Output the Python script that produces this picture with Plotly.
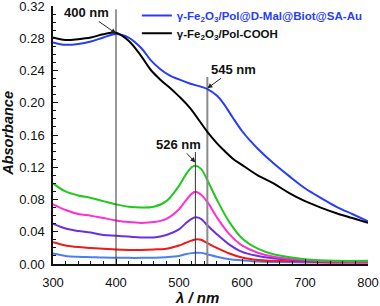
import plotly.graph_objects as go

# wavelength grid (nm)
wl_low = [300, 320, 340, 360, 380, 400, 420, 440, 460, 480, 500, 510, 520, 526, 535,
          545, 560, 580, 600, 625, 650, 700, 750, 800]
green = [0.100, 0.090, 0.085, 0.082, 0.078, 0.074, 0.071, 0.070, 0.071, 0.078, 0.097, 0.110,
         0.120, 0.122, 0.118, 0.104, 0.080, 0.052, 0.032, 0.019, 0.012, 0.006, 0.004, 0.004]
magenta = [0.074, 0.067, 0.062, 0.060, 0.057, 0.054, 0.052, 0.051, 0.052, 0.056, 0.068, 0.078,
           0.087, 0.0895, 0.086, 0.077, 0.058, 0.037, 0.023, 0.014, 0.009, 0.005, 0.003, 0.003]
purple = [0.050, 0.044, 0.041, 0.039, 0.036, 0.035, 0.034, 0.033, 0.033, 0.036, 0.043, 0.050,
          0.056, 0.058, 0.056, 0.048, 0.037, 0.024, 0.015, 0.010, 0.007, 0.004, 0.003, 0.003]
red = [0.027, 0.023, 0.021, 0.020, 0.019, 0.018, 0.0175, 0.0175, 0.018, 0.019, 0.023, 0.026,
       0.029, 0.0305, 0.030, 0.026, 0.020, 0.013, 0.008, 0.005, 0.004, 0.003, 0.002, 0.002]
light_blue = [0.013, 0.010, 0.009, 0.0085, 0.008, 0.0078, 0.0076, 0.0076, 0.0078, 0.0085, 0.010,
              0.012, 0.0135, 0.014, 0.0138, 0.012, 0.009, 0.006, 0.0045, 0.003, 0.0025, 0.002,
              0.002, 0.002]

wl_high = [300, 320, 340, 360, 380, 400, 420, 440, 455, 470, 485, 500, 517, 545, 560, 570, 585,
           600, 613, 625, 650, 675, 700, 725, 750, 775, 800]
au_conj = [0.275, 0.272, 0.273, 0.276, 0.281, 0.2855, 0.281, 0.268, 0.253, 0.242, 0.234, 0.229,
           0.224, 0.217, 0.209, 0.200, 0.182, 0.165, 0.153, 0.143, 0.125, 0.109, 0.094, 0.082,
           0.071, 0.062, 0.053]
cooh = [0.281, 0.278, 0.279, 0.281, 0.285, 0.287, 0.277, 0.258, 0.241, 0.229, 0.219, 0.208,
        0.194, 0.164, 0.150, 0.142, 0.131, 0.123, 0.116, 0.110, 0.100, 0.088, 0.078, 0.070,
        0.063, 0.057, 0.051]

# marker lines
mark_400_x = [400, 400]
mark_400_y = [0, 0.316]
mark_526_x = [526, 526]
mark_526_y = [0, 0.139]
mark_545_x = [545, 545]
mark_545_y = [0, 0.232]

x_ticks = [300, 400, 500, 600, 700, 800]
y_ticks = [0.00, 0.04, 0.08, 0.12, 0.16, 0.20, 0.24, 0.28, 0.32]

BLUE = "#2b3cf5"
fig = go.Figure()

low_series = [(light_blue, "#4a7ff0"), (red, "#f01818"), (purple, "#6a30e0"),
              (magenta, "#ff30d0"), (green, "#20c820")]
for ys, c in low_series:
    fig.add_trace(go.Scatter(x=wl_low, y=ys, mode="lines", line=dict(color=c, width=2, shape="spline"),
                             showlegend=False, hoverinfo="skip"))

fig.add_trace(go.Scatter(x=mark_400_x, y=mark_400_y, mode="lines", line=dict(color="#333333", width=1),
                         showlegend=False, hoverinfo="skip"))
fig.add_trace(go.Scatter(x=mark_526_x, y=mark_526_y, mode="lines", line=dict(color="#333333", width=1),
                         showlegend=False, hoverinfo="skip"))
fig.add_trace(go.Scatter(x=mark_545_x, y=mark_545_y, mode="lines", line=dict(color="#8a8a8a", width=2),
                         showlegend=False, hoverinfo="skip"))

fig.add_trace(go.Scatter(x=wl_high, y=au_conj, mode="lines", line=dict(color=BLUE, width=2, shape="spline"),
                         legend="legend",
                         name="<span style='color:%s'><b>γ-Fe<sub>2</sub>O<sub>3</sub>/Pol@D-Mal@Biot@SA-Au</b></span>" % BLUE))
fig.add_trace(go.Scatter(x=wl_high, y=cooh, mode="lines", line=dict(color="#000000", width=2, shape="spline"),
                         legend="legend2",
                         name="<b>γ-Fe<sub>2</sub>O<sub>3</sub>/Pol-COOH</b>"))

font_fam = "Liberation Sans, Arial, sans-serif"
ann_font = dict(family=font_fam, size=13, color="#111111", weight="bold")
fig.add_annotation(x=400, y=0.286, text="400 nm", showarrow=True, ax=-30, ay=-21,
                   arrowhead=2, arrowsize=1, arrowwidth=1, arrowcolor="#222222", font=ann_font)
fig.add_annotation(x=526, y=0.126, text="526 nm", showarrow=True, ax=-17, ay=-18,
                   arrowhead=2, arrowsize=1, arrowwidth=1, arrowcolor="#222222", font=ann_font)
fig.add_annotation(x=545, y=0.218, text="545 nm", showarrow=True, ax=26, ay=-19,
                   arrowhead=2, arrowsize=1, arrowwidth=1, arrowcolor="#222222", font=ann_font)

# axis titles
fig.add_annotation(xref="paper", yref="paper", x=(197 - 53.3) / 314.4, y=-(298 - 264) / 258.4,
                   text="λ / nm", showarrow=False, xanchor="center", yanchor="middle",
                   font=dict(family=font_fam, size=15, color="#111111", weight="bold", style="italic"))
fig.add_annotation(xref="paper", yref="paper", x=-(53.3 - 9) / 314.4, y=(264 - 133) / 258.4,
                   text="Absorbance", showarrow=False, textangle=-90, xanchor="center", yanchor="middle",
                   font=dict(family=font_fam, size=14.5, color="#111111", weight="bold", style="italic"))

leg_common = dict(xanchor="left", yanchor="middle", bgcolor="rgba(0,0,0,0)",
                  font=dict(size=11.5, family=font_fam), itemwidth=30, borderwidth=0)
fig.update_layout(
    template="none",
    width=380, height=306,
    margin=dict(l=53.3, r=12.3, t=5.6, b=42, autoexpand=False),
    paper_bgcolor="white", plot_bgcolor="white",
    font=dict(family=font_fam, size=13, color="#111111"),
    legend=dict(x=(137 - 53.3) / 314.4, y=(264 - 15) / 258.4, **leg_common),
    legend2=dict(x=(137 - 53.3) / 314.4, y=(264 - 33) / 258.4, **leg_common),
)
fig.update_xaxes(range=[300, 800], tickvals=x_ticks, ticks="inside", ticklen=5, tickwidth=1,
                 tickcolor="#111111", showline=True, linecolor="#111111", linewidth=1.5,
                 showgrid=False, zeroline=False, ticklabelstandoff=6, automargin=False,
                 ticklabeloverflow="allow",
                 minor=dict(dtick=20, ticks="inside", ticklen=3, tickcolor="#111111", showgrid=False))
fig.update_yaxes(range=[0, 0.3201], tickvals=y_ticks, tickformat=".2f", ticks="inside", ticklen=5,
                 tickwidth=1, tickcolor="#111111", showline=True, linecolor="#111111", linewidth=1.5,
                 showgrid=False, zeroline=False, ticklabelstandoff=4, automargin=False,
                 ticklabeloverflow="allow",
                 minor=dict(dtick=0.01, ticks="inside", ticklen=3, tickcolor="#111111", showgrid=False))

fig.write_html("out.html", config={"displayModeBar": False},
               post_script="document.body.style.margin='0px';document.body.style.overflow='hidden';")
